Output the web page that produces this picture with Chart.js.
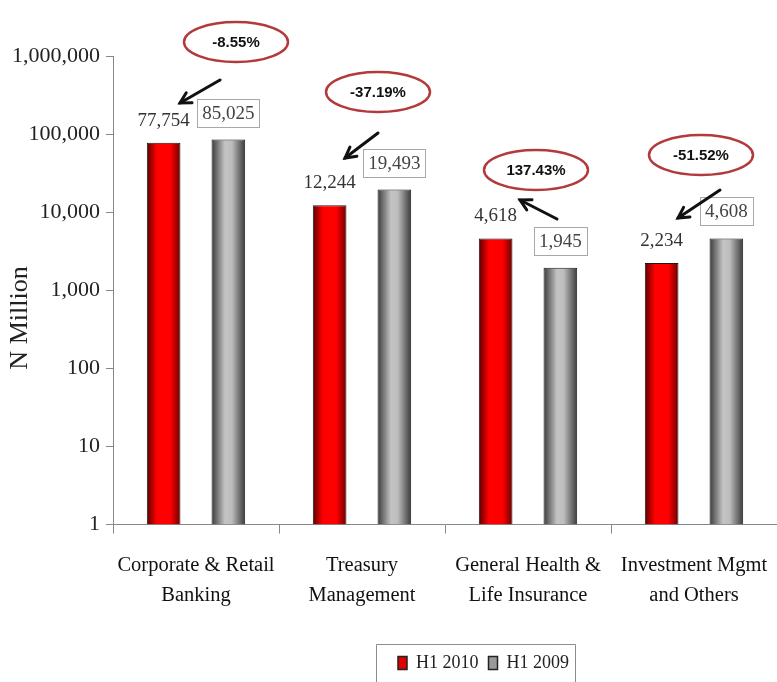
<!DOCTYPE html>
<html>
<head>
<meta charset="utf-8">
<script src="https://cdn.jsdelivr.net/npm/chart.js@4/dist/chart.umd.min.js"></script>
<style>
  html, body { margin: 0; padding: 0; background: #ffffff; }
  #wrap { width: 777px; height: 682px; position: relative; }
</style>
</head>
<body>
<div id="wrap"><canvas id="c" width="777" height="682"></canvas></div>
<script>
// ---- data ----
const categories = [
  ["Corporate & Retail", "Banking"],
  ["Treasury", "Management"],
  ["General Health &", "Life Insurance"],
  ["Investment Mgmt", "and Others"]
];
const seriesNames = ["H1 2010", "H1 2009"];
const h1_2010 = [77754, 12244, 4618, 2234];
const h1_2009 = [85025, 19493, 1945, 4608];
const changeLabels = ["-8.55%", "-37.19%", "137.43%", "-51.52%"];
const yTickValues = [1, 10, 100, 1000, 10000, 100000, 1000000];
const yTitle = "N Million";

// ---- styling / layout (not data) ----
const SERIF = "'Liberation Serif', 'Times New Roman', serif";
// annotation offsets: ellipse relative to category centre; arrows in pixels
const annoLayout = [
  { ex: 40, ey: 42, tail: [220, 80], head: [180, 103] },
  { ex: 16, ey: 92, tail: [378, 133], head: [345, 158] },
  { ex: 8,  ey: 170, tail: [557, 219], head: [520, 200] },
  { ex: 7,  ey: 155, tail: [720, 190], head: [678, 218] }
];

function fmt(v) { return v.toLocaleString('en-US'); }

const gradientPlugin = {
  id: 'barGradient',
  afterLayout(chart) {
    const lg = chart.legend;
    if (lg) { lg.left += 92; lg.right += 92; }
  },
  beforeDatasetsDraw(chart) {
    const ctx = chart.ctx;
    chart.data.datasets.forEach((ds, di) => {
      const meta = chart.getDatasetMeta(di);
      meta.data.forEach(el => {
        const x0 = el.x - el.width / 2, x1 = el.x + el.width / 2;
        const g = ctx.createLinearGradient(x0, 0, x1, 0);
        if (di === 0) {
          g.addColorStop(0, '#5a0000');
          g.addColorStop(0.3, '#ff0000');
          g.addColorStop(0.7, '#ff0000');
          g.addColorStop(1, '#6a0000');
        } else {
          g.addColorStop(0, '#3a3a3a');
          g.addColorStop(0.4, '#c4c4c4');
          g.addColorStop(0.6, '#bdbdbd');
          g.addColorStop(1, '#3a3a3a');
        }
        el.options.backgroundColor = g;
      });
    });
  }
};

const annoPlugin = {
  id: 'annotations',
  afterDatasetsDraw(chart) {
    const ctx = chart.ctx;
    const m0 = chart.getDatasetMeta(0), m1 = chart.getDatasetMeta(1);
    ctx.save();
    // y axis title
    ctx.save();
    ctx.translate(20, 318);
    ctx.rotate(-Math.PI / 2);
    ctx.font = '26px ' + SERIF;
    ctx.fillStyle = '#222';
    ctx.textAlign = 'center';
    ctx.textBaseline = 'middle';
    ctx.fillText(yTitle, 0, 0);
    ctx.restore();
    // value labels
    ctx.font = '19px ' + SERIF;
    ctx.textAlign = 'center';
    ctx.textBaseline = 'middle';
    m0.data.forEach((el, i) => {
      ctx.fillStyle = '#333';
      ctx.fillText(fmt(h1_2010[i]), el.x, el.y - 22);
    });
    m1.data.forEach((el, i) => {
      const t = fmt(h1_2009[i]);
      const w = ctx.measureText(t).width + 10;
      const cy = el.y - 27;
      ctx.fillStyle = '#fff';
      ctx.fillRect(el.x - w / 2, cy - 14, w, 28);
      ctx.strokeStyle = '#a8a8a8';
      ctx.lineWidth = 1;
      ctx.strokeRect(Math.round(el.x - w / 2) + 0.5, Math.round(cy - 14) + 0.5, Math.round(w), 28);
      ctx.fillStyle = '#444';
      ctx.fillText(t, el.x, cy + 1);
    });
    // ellipses and arrows
    const xs = chart.scales.x;
    changeLabels.forEach((lab, i) => {
      const L = annoLayout[i];
      const cx = xs.getPixelForValue(i) + L.ex;
      const cy = L.ey;
      ctx.beginPath();
      ctx.ellipse(cx, cy, 52, 20, 0, 0, Math.PI * 2);
      ctx.fillStyle = '#fff';
      ctx.fill();
      ctx.lineWidth = 2.5;
      ctx.strokeStyle = '#b33a3c';
      ctx.stroke();
      ctx.fillStyle = '#111';
      ctx.font = 'bold 15px "Liberation Sans Narrow", "Liberation Sans", Arial, sans-serif';
      ctx.fillText(lab, cx, cy + 1);
      const [tx, ty] = L.tail, [hx, hy] = L.head;
      ctx.strokeStyle = '#111';
      ctx.lineWidth = 3;
      ctx.lineCap = 'round';
      ctx.beginPath();
      ctx.moveTo(tx, ty);
      ctx.lineTo(hx, hy);
      ctx.stroke();
      const ang = Math.atan2(hy - ty, hx - tx);
      const hl = 12;
      ctx.beginPath();
      ctx.moveTo(hx - hl * Math.cos(ang - 0.5), hy - hl * Math.sin(ang - 0.5));
      ctx.lineTo(hx, hy);
      ctx.lineTo(hx - hl * Math.cos(ang + 0.5), hy - hl * Math.sin(ang + 0.5));
      ctx.stroke();
    });
    ctx.restore();
  },
  afterDraw(chart) {
    const lg = chart.legend;
    if (!lg || !lg.legendHitBoxes || !lg.legendHitBoxes.length) return;
    const hb = lg.legendHitBoxes;
    const first = hb[0], last = hb[hb.length - 1];
    const ctx = chart.ctx;
    ctx.save();
    ctx.strokeStyle = '#8c8c8c';
    ctx.lineWidth = 1;
    const left = Math.round(first.left - 22) + 0.5;
    const right = Math.round(last.left + last.width + 6) + 0.5;
    const top = Math.round(lg.top) + 0.5;
    ctx.beginPath();
    ctx.moveTo(left, chart.height + 2);
    ctx.lineTo(left, top);
    ctx.lineTo(right, top);
    ctx.lineTo(right, chart.height + 2);
    ctx.stroke();
    ctx.restore();
  }
};

new Chart(document.getElementById('c'), {
  type: 'bar',
  data: {
    labels: categories,
    datasets: [
      {
        label: seriesNames[0],
        data: h1_2010,
        backgroundColor: () => '#e00000',
        borderColor: '#1a1a1a',
        borderWidth: 1,
        categoryPercentage: 0.78,
        barPercentage: 0.52
      },
      {
        label: seriesNames[1],
        data: h1_2009,
        backgroundColor: () => '#a8a8a8',
        borderColor: '#1a1a1a',
        borderWidth: 1,
        categoryPercentage: 0.78,
        barPercentage: 0.52
      }
    ]
  },
  options: {
    responsive: false,
    animation: false,
    events: [],
    layout: { padding: { top: 56, right: 0, left: 6, bottom: 0 } },
    plugins: {
      tooltip: { enabled: false },
      legend: {
        position: 'bottom',
        labels: {
          font: { family: SERIF, size: 18 },
          color: '#222',
          boxWidth: 9,
          boxHeight: 13,
          padding: 10,
          generateLabels(chart) {
            const fills = ['#e00000', '#9a9a9a'];
            return chart.data.datasets.map((ds, i) => ({
              text: ds.label,
              fillStyle: fills[i],
              strokeStyle: '#222',
              lineWidth: 1.5,
              hidden: false,
              datasetIndex: i,
              fontColor: '#222'
            }));
          }
        }
      }
    },
    scales: {
      x: {
        grid: { display: true, drawOnChartArea: false, drawTicks: true, tickLength: 9, color: '#888', offset: true },
        border: { display: true, color: '#888', width: 1 },
        afterFit(scale) {
          scale.height += 17;
          scale.paddingRight = 0;
          scale.paddingLeft = 0;
        },
        ticks: {
          font: { family: SERIF, size: 20.5, lineHeight: 1.45 },
          color: '#111',
          padding: 17,
          maxRotation: 0,
          autoSkip: false
        }
      },
      y: {
        type: 'logarithmic',
        min: 1,
        max: 1000000,
        afterBuildTicks(scale) {
          scale.ticks = yTickValues.map(v => ({ value: v, major: true }));
        },
        grid: { display: true, drawOnChartArea: false, drawTicks: true, tickLength: 7, color: '#888' },
        border: { display: true, color: '#888', width: 1 },
        ticks: {
          font: { family: SERIF, size: 22 },
          color: '#222',
          padding: 6,
          callback: (v) => fmt(v)
        },
        title: { display: false }
      }
    }
  },
  plugins: [gradientPlugin, annoPlugin]
});
</script>
</body>
</html>
